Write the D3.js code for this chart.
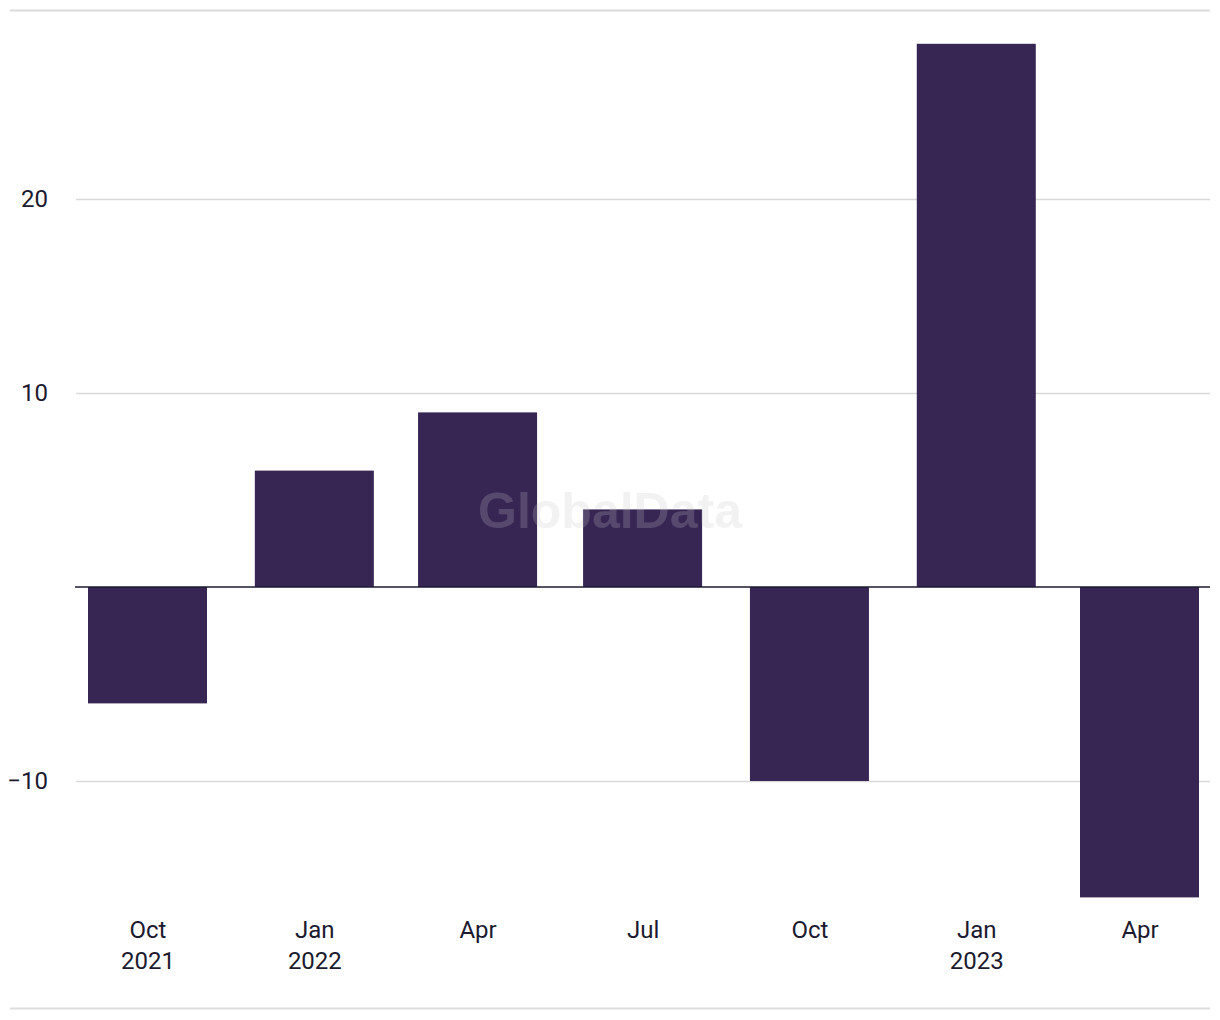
<!DOCTYPE html>
<html>
<head>
<meta charset="utf-8">
<script src="https://cdn.jsdelivr.net/npm/d3@7"></script>
<style>
  html, body { margin: 0; padding: 0; background: #fff; }
  svg { display: block; }
  text { font-family: Roboto, "Liberation Sans", Arial, sans-serif; }
</style>
</head>
<body>
<svg id="chart" width="1220" height="1020"></svg>
<script>
// ---- data ----
const periods = ["2021-10-01", "2022-01-01", "2022-04-01", "2022-07-01", "2022-10-01", "2023-01-01", "2023-04-01"];
const values = [-6, 6, 9, 4, -10, 28, -16];
const tickLabels = [["Oct", "2021"], ["Jan", "2022"], ["Apr"], ["Jul"], ["Oct"], ["Jan", "2023"], ["Apr"]];
const yTicks = [-10, 10, 20];

const svg = d3.select("#chart");
const textColor = "#1b1a2e";
const barColor = "#372554";

const parse = d3.utcParse("%Y-%m-%d");
const dates = periods.map(parse);

const x = d3.scaleUtc().domain([dates[0], dates[dates.length - 1]]).range([147.5, 1139.5]);
const y = d3.scaleLinear().domain([-20, 30]).range([975, 5]);
const barW = 119;
const plotLeft = 76, plotRight = 1210;

// frame lines
svg.append("line").attr("x1", 10).attr("x2", plotRight).attr("y1", 10.5).attr("y2", 10.5)
  .attr("stroke", "#dcdcdc").attr("stroke-width", 2);
svg.append("line").attr("x1", 10).attr("x2", plotRight).attr("y1", 1008.5).attr("y2", 1008.5)
  .attr("stroke", "#dcdcdc").attr("stroke-width", 2);

// y axis with gridlines
const yAxis = d3.axisLeft(y).tickValues(yTicks)
  .tickFormat(d => d < 0 ? "\u2212" + Math.abs(d) : String(d))
  .tickSize(-(plotRight - plotLeft)).tickPadding(28);
const gy = svg.append("g").attr("transform", `translate(${plotLeft},0)`).call(yAxis);
gy.select(".domain").remove();
gy.selectAll(".tick line").attr("stroke", "#d9d9d9").attr("stroke-width", 1.5);
gy.selectAll(".tick text").attr("fill", textColor).attr("font-size", 24);

// bars
svg.append("g").selectAll("rect").data(values).join("rect")
  .attr("x", (d, i) => x(dates[i]) - barW / 2)
  .attr("width", barW)
  .attr("y", d => y(Math.max(0, d)))
  .attr("height", d => Math.abs(y(d) - y(0)))
  .attr("fill", barColor);

// zero line
svg.append("line").attr("x1", plotLeft - 1).attr("x2", plotRight)
  .attr("y1", y(0)).attr("y2", y(0)).attr("stroke", textColor).attr("stroke-width", 1.5);

// x axis
const xAxis = d3.axisBottom(x).tickValues(dates).tickSize(0).tickFormat(() => "");
const gx = svg.append("g").attr("transform", "translate(0,920)").call(xAxis);
gx.select(".domain").remove();
gx.selectAll(".tick text").each(function(d, i) {
  const t = d3.select(this).text(null).attr("fill", textColor).attr("font-size", 24).attr("dy", null).attr("y", 0);
  tickLabels[i].forEach((s, j) => {
    t.append("tspan").attr("x", 0).attr("y", 18 + j * 31).text(s);
  });
});

// watermark
svg.append("text").attr("x", 610).attr("y", 528).attr("text-anchor", "middle")
  .style("font-family", "'Liberation Sans', Arial, sans-serif").attr("font-weight", "bold")
  .attr("font-size", 50).attr("fill", "#c8c8c8").attr("opacity", 0.22)
  .text("GlobalData");
</script>
</body>
</html>
